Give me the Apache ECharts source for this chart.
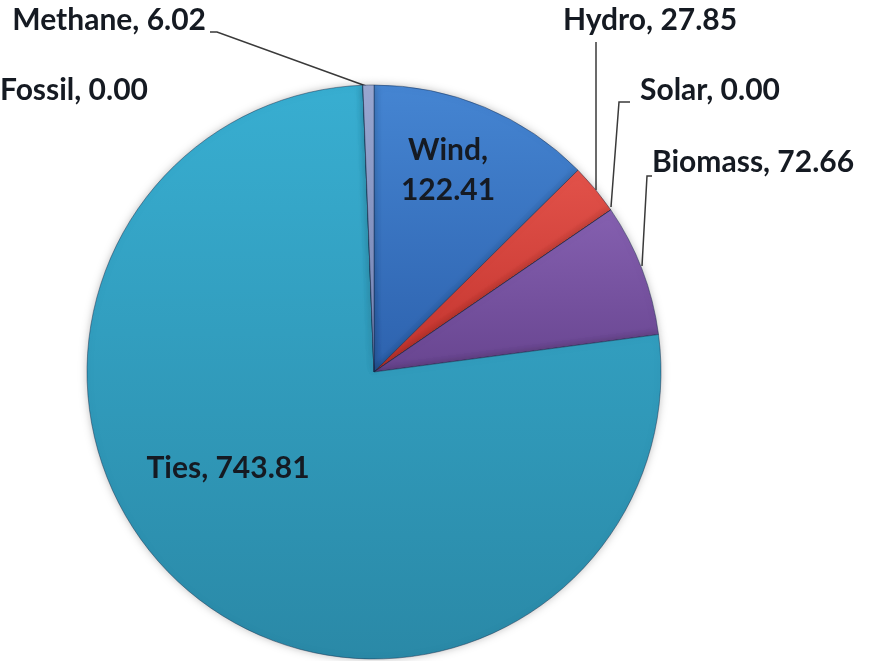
<!DOCTYPE html>
<html lang="en">
<head>
    <meta charset="UTF-8">
    <title>Generation mix</title>
    <script src="https://cdn.jsdelivr.net/npm/echarts@6/dist/echarts.min.js"></script>
    <style>
        body { margin: 0; background: #fff; }
    </style>
</head>
<body>
    <div id="main" style="width: 869px;height:661px;"></div>
    <script>
        // data, clockwise from 12 o'clock
        var names = ['Wind', 'Hydro', 'Solar', 'Biomass', 'Ties', 'Fossil', 'Methane'];
        var values = [122.41, 27.85, 0.00, 72.66, 743.81, 0.00, 6.02];

        // fills: [top, bottom]
        var fills = [
            ['#4585d2', '#2d62ae'],
            ['#e2524a', '#c2332d'],
            ['#9bbb59', '#7d9a40'],
            ['#8560b0', '#684590'],
            ['#38aed1', '#2a89a7'],
            ['#f79646', '#d87a2c'],
            ['#9aa8d2', '#7585b8']
        ];

        // label spots (layout only)
        var spots = {
            Wind:    { x: 448, y: 170, align: 'center' },
            Hydro:   { x: 650, y: 20,  align: 'center', line: [[596, 190], [596, 42]] },
            Solar:   { x: 640, y: 90,  align: 'left',   line: [[611, 207], [619, 102], [630, 102]] },
            Biomass: { x: 652, y: 162, align: 'left',   line: [[642, 266], [647, 176], [652, 176]] },
            Ties:    { x: 228, y: 468, align: 'center' },
            Fossil:  { x: 0,   y: 90,  align: 'left' },
            Methane: { x: 206, y: 20,  align: 'right',  line: [[366, 86], [217, 32], [210, 32]] }
        };

        var myChart = echarts.init(document.getElementById('main'));

        var data = [];
        for (var i = 0; i < names.length; i++) {
            var hasLine = !!spots[names[i]].line;
            data.push({
                name: names[i],
                value: values[i],
                itemStyle: {
                    color: new echarts.graphic.LinearGradient(0, 0, 0, 1, [
                        { offset: 0, color: fills[i][0] },
                        { offset: 1, color: fills[i][1] }
                    ])
                },
                labelLine: { show: hasLine }
            });
        }

        var option = {
            animation: false,
            series: [
                {
                    type: 'pie',
                    center: [374, 372],
                    radius: [0, 287],
                    startAngle: 90,
                    clockwise: true,
                    avoidLabelOverlap: false,
                    stillShowZeroSum: true,
                    minShowLabelAngle: 0,
                    itemStyle: {
                        borderColor: 'rgba(20,40,70,0.45)',
                        borderWidth: 1,
                        shadowBlur: 8,
                        shadowColor: 'rgba(0,0,0,0.25)'
                    },
                    label: {
                        show: true,
                        color: '#151a22',
                        fontFamily: 'Lato',
                        fontWeight: 'bold',
                        fontSize: 30,
                        lineHeight: 40,
                        formatter: function (p) {
                            var v = p.value.toFixed(2);
                            return p.name === 'Wind' ? p.name + ',\n' + v : p.name + ', ' + v;
                        }
                    },
                    labelLine: {
                        show: true,
                        lineStyle: { color: '#3a3a3a', width: 1.5 }
                    },
                    labelLayout: function (params) {
                        var s = spots[names[params.dataIndex]];
                        var out = {
                            x: s.x,
                            y: s.y,
                            align: s.align,
                            verticalAlign: 'middle'
                        };
                        if (s.line) out.labelLinePoints = s.line;
                        return out;
                    },
                    data: data
                }
            ]
        };
        myChart.setOption(option);
    </script>
</body>
</html>
